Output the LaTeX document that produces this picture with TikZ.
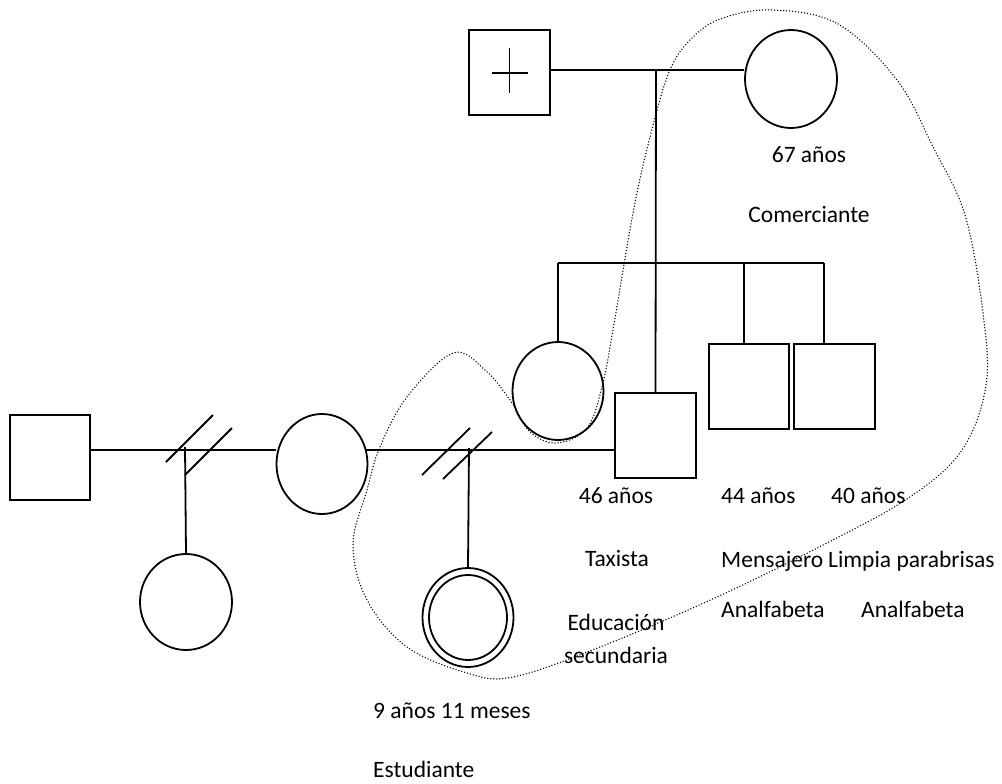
\documentclass[tikz,border=0pt]{standalone}
\usepackage{fontspec}
\setmainfont{Carlito}
\usetikzlibrary{shapes.geometric}
\begin{document}
\begin{tikzpicture}[x=1pt,y=-1pt,
  ln/.style={line width=1.8pt},
  sqbox/.style={draw, line width=1.8pt, rectangle, minimum width=#1, minimum height=85pt, inner sep=0pt},
  ell/.style n args={2}{draw, line width=1.8pt, ellipse, minimum width=#1, minimum height=#2, inner sep=0pt},
  txt/.style={font=\fontsize{23.5}{28}\selectfont, inner sep=0pt, anchor=base},
  encl/.style={line width=1.5pt, line cap=round, dash pattern=on 0pt off 3pt}
]
\useasboundingbox (0,0) rectangle (1002,784);

% persons
\node[sqbox=81pt] (gf) at (509.5,72.5) {};
\node[ell={92pt}{98pt}] (gm) at (791,79) {};
\node[ell={91pt}{98pt}] (sis) at (558,391) {};
\node[sqbox=81pt] (tx) at (655.5,435.5) {};
\node[sqbox=80pt] (b44) at (749,386.5) {};
\node[sqbox=81pt] (b40) at (834.5,386.5) {};
\node[sqbox=80pt] (lsq) at (50,457.5) {};
\node[ell={91pt}{100pt}] (ex) at (322,464) {};
\node[ell={92pt}{96pt}] (ld) at (186,602) {};
\node[ell={91pt}{99pt}] (ch) at (468,617.5) {};
\node[draw, line width=1.8pt, ellipse, minimum width=78pt, minimum height=85pt, inner sep=0pt] (chin) at (468,617.5) {};

% deceased cross
\draw[ln] ([xshift=-18pt,yshift=-0.5pt]gf.center) -- ([xshift=18pt,yshift=-0.5pt]gf.center);
\draw[ln] ([yshift=24pt]gf.center) -- ([yshift=-21pt]gf.center);

% key coordinates
\coordinate (m1) at (656,70);
\coordinate (sb1) at (558,263);
\coordinate (sb2) at (744,263);
\coordinate (sb3) at (824,263);
\coordinate (L) at (0,450);
\coordinate (d1) at (185,447);
\coordinate (d2) at (469,448);

% grandparents
\draw[ln] (gf.east |- m1) -- (m1) -- (m1 -| gm.west);
\draw[ln] (m1) -- (tx.north);
\draw[ln] (sb1) -- (sb3);
\draw[ln] (sb1) -- (sis.north);
\draw[ln] (sb2) -- (sb2 |- b44.north);
\draw[ln] (sb3) -- (sb3 |- b40.north);

% lower marriages
\draw[ln] (lsq.east |- L) -- (L -| ex.west);
\draw[ln] ([xshift=-2.5pt]ex.east |- L) -- (L -| tx.west);
\draw[ln] (166,462) -- (213,415);
\draw[ln] (185,475) -- (232,428);
\draw[ln] (422,475) -- (470,428);
\draw[ln] (443,479) -- (492,432);
\draw[ln] (d1) -- (ld.north);
\draw[ln] (d2) -- (ch.north);

% texts
\node[txt] (t67) at (809,162) {67 años};
\node[txt] (tcom) at (809,222) {Comerciante};
\node[txt] (t46) at (616,503) {46 años};
\node[txt] (ttax) at (617,566) {Taxista};
\node[txt] (tedu) at (616,630) {Educación};
\node[txt] (tsec) at (616,663) {secundaria};
\node[txt, anchor=base west] (t44) at (721,503) {44 años};
\node[txt, anchor=base west] (t40) at (831,503) {40 años};
\node[txt, anchor=base west] (tmen) at (721,567) {Mensajero};
\node[txt, anchor=base west] (tlim) at (828,567) {Limpia parabrisas};
\node[txt, anchor=base west] (tan1) at (721,617) {Analfabeta};
\node[txt, anchor=base west] (tan2) at (861,617) {Analfabeta};
\node[txt, anchor=base west] (t9) at (373,718) {9 años 11 meses};
\node[txt, anchor=base west] (test) at (373,777) {Estudiante};

% enclosure
\draw[encl] plot[smooth cycle, tension=0.6] coordinates {
 (773,10) (838,24) (897,80) (933,147) (965,215) (983,313) (986,385) (962,450)
 (910,497) (827,543) (717,597) (600,647) (513,677) (467,673) (407,647) (367,600)
 (353,545) (367,490) (380,447) (407,397) (453,353) (485,370) (510,400) (530,432)
 (557,443) (587,428) (602,387) (613,330) (633,213) (650,137) (670,70) (693,37) (723,18)};
\end{tikzpicture}
\end{document}
